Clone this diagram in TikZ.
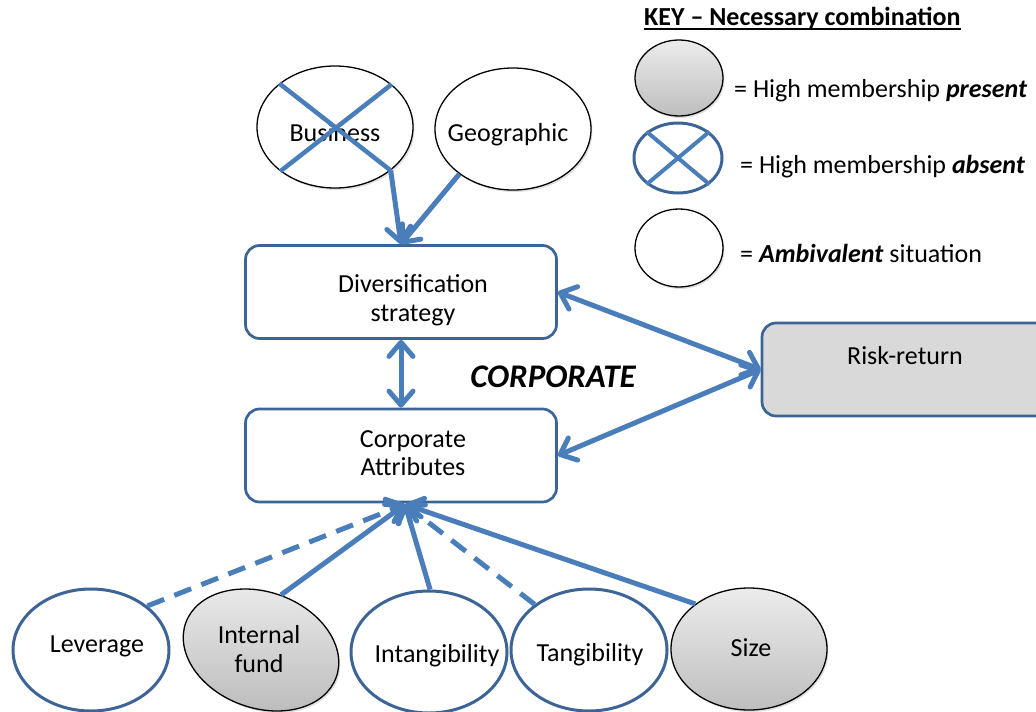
\documentclass[tikz,border=0pt]{standalone}
\usepackage{fontspec}
\setmainfont{Carlito}
\usetikzlibrary{shapes.geometric,arrows.meta,shadows}

\definecolor{linkblue}{RGB}{74,126,187}
\definecolor{edgeblue}{RGB}{60,100,150}
\definecolor{boxgray}{RGB}{217,217,217}
\definecolor{graytop}{RGB}{236,236,236}
\definecolor{graybot}{RGB}{190,190,190}

\tikzset{
  txt/.style={inner sep=0pt, anchor=base, font=\fontsize{26}{31}\selectfont},
  oval/.style={ellipse, inner sep=0pt, minimum width=156pt, minimum height=122pt},
  softshadow/.style={drop shadow={opacity=0.25, shadow xshift=1.5pt, shadow yshift=-2pt}},
  ambivalent/.style={oval, draw=black, line width=1.3pt, fill=white, softshadow},
  present/.style={oval, draw=black, line width=1.3pt, top color=graytop, bottom color=graybot, softshadow},
  ringed/.style={oval, draw=edgeblue, line width=3pt, fill=white},
  stagebox/.style={rectangle, draw=edgeblue, line width=2.7pt, rounded corners=14pt, fill=white,
    minimum width=311pt, minimum height=93pt, inner sep=0pt},
  crossline/.style={draw=linkblue, line width=4.5pt},
  barb/.tip={Straight Barb[length=14pt, width=24pt, round]},
  link/.style={draw=linkblue, line width=5pt, -barb},
  twoway/.style={draw=linkblue, line width=5pt, barb-barb},
  dashlink/.style={link, dash pattern=on 18pt off 11pt},
}

\begin{document}
\begin{tikzpicture}[x=1pt, y=-1pt]
\useasboundingbox (0,0) rectangle (1036,712);
\clip (0,0) rectangle (1036,712);

% --- key ---
\node[txt, anchor=base west, font=\fontsize{26}{31}\selectfont\bfseries] (keytitle) at (644,25) {KEY – Necessary combination};
\draw[line width=1.8pt] ([yshift=-4pt]keytitle.base west) -- ([yshift=-4pt]keytitle.base east);

\node[present, minimum width=88pt, minimum height=76pt] (kpresent) at (679,78) {};
\node[txt, anchor=base west] (kpresenttxt) at (734,97) {= High membership \textbf{\textit{present}}};

\node[ringed, minimum width=88pt, minimum height=70pt] (kabsent) at (678,158) {};
\draw[crossline, line width=4pt] (kabsent.140) -- (kabsent.-40);
\draw[crossline, line width=4pt] (kabsent.40) -- (kabsent.-140);
\node[txt, anchor=base west] (kabsenttxt) at (740,173) {= High membership \textbf{\textit{absent}}};

\node[ambivalent, minimum width=88pt, minimum height=78pt] (kambi) at (679,248) {};
\node[txt, anchor=base west] (kambitxt) at (740,262) {= \textbf{\textit{Ambivalent}} situation};

% --- diversification drivers ---
\node[ambivalent] (bus) at (335,127) {};
\node[txt] (bustxt) at (335,141) {Business};
\draw[crossline] (bus.142) -- (bus.-38);
\draw[crossline] (bus.37) -- (bus.-141);

\node[ambivalent] (geo) at (513,129) {};
\node[txt] (geotxt) at (508,141) {Geographic};

% --- corporate boxes ---
\node[stagebox] (div) at (401,292) {};
\node[txt] (divtxt1) at (413,292) {Diversification};
\node[txt] (divtxt2) at (413,321) {strategy};

\node[stagebox] (corp) at (401,455.5) {};
\node[txt] (corptxt1) at (413,447) {Corporate};
\node[txt] (corptxt2) at (413,475) {Attributes};

\node[stagebox, fill=boxgray, minimum width=300pt] (risk) at (912,369.5) {};
\node[txt] (risktxt) at (905,364) {Risk-return};

\node[txt, font=\fontsize{33}{38}\selectfont\bfseries\itshape] (corplabel) at (553,387) {CORPORATE};

% --- firm attributes ---
\node[ringed] (lev) at (91,650) {};
\node[txt] (levtxt) at (97,652) {Leverage};

\node[present, rotate=-20, minimum width=160pt, minimum height=116pt] (fund) at (261,650) {};
\node[txt] (fundtxt1) at (259,643) {Internal};
\node[txt] (fundtxt2) at (259,672) {fund};

\node[ringed] (intang) at (429,652) {};
\node[txt] (intangtxt) at (437,662) {Intangibility};

\node[ringed] (tang) at (589,650) {};
\node[txt] (tangtxt) at (590,661) {Tangibility};

\node[present] (size) at (749,649) {};
\node[txt] (sizetxt) at (751,656) {Size};

% --- connectors ---
\coordinate (hub) at ([xshift=4pt, yshift=-1pt]corp.south);

\draw[link] (bus.-38) -- (div.north);
\draw[link] (geo.-140) -- (div.north);
\draw[twoway] (div.south) -- (corp.north);
\draw[twoway] (div.east) -- (risk.west);
\draw[twoway] (corp.east) -- (risk.west);

\draw[dashlink] (lev.38) -- (hub);
\draw[link] (fund.north) -- (hub);
\draw[link] (intang.89) -- (hub);
\draw[dashlink] (tang.140) -- (hub);
\draw[link] (size.140) -- (hub);
\end{tikzpicture}
\end{document}
